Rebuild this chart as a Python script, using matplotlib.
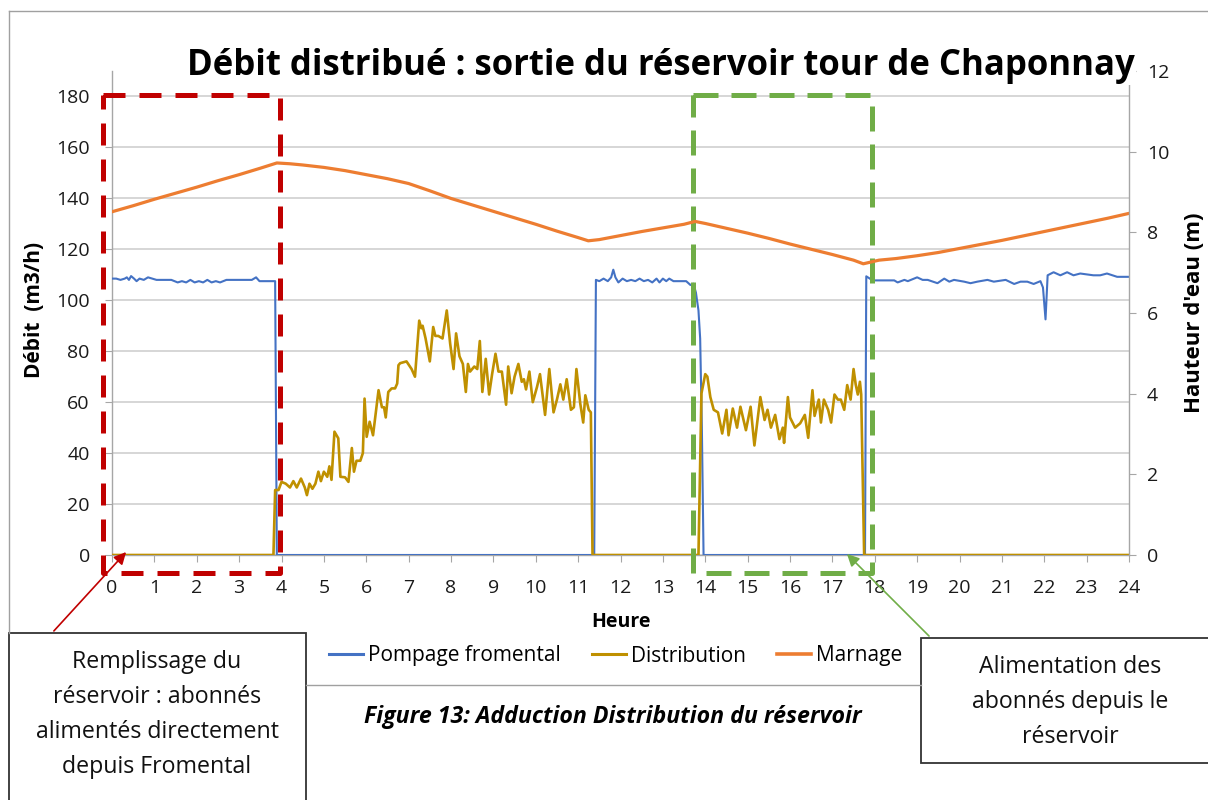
import matplotlib.pyplot as plt
from matplotlib.patches import Rectangle, FancyArrowPatch
from matplotlib.lines import Line2D

plt.rcParams['font.family'] = ['Open Sans', 'DejaVu Sans']

# Pompage fromental (m3/h) vs heure
pomp_t = [0.00, 0.10, 0.20, 0.30, 0.35, 0.40, 0.45, 0.52, 0.58, 0.65, 0.75, 0.85, 0.95, 1.05,
          1.20, 1.40, 1.55, 1.65, 1.75, 1.85, 1.95, 2.05, 2.15, 2.25, 2.35, 2.45, 2.55, 2.70,
          2.90, 3.10, 3.30, 3.40, 3.48, 3.60, 3.85, 3.89,
          11.38, 11.42, 11.50, 11.60, 11.70, 11.78, 11.83, 11.88, 11.95, 12.05, 12.15, 12.25,
          12.35, 12.45, 12.55, 12.65, 12.75, 12.85, 12.92, 13.00, 13.08, 13.15, 13.25, 13.40,
          13.55, 13.65, 13.72, 13.78, 13.84, 13.88, 13.92, 13.96,
          17.77, 17.80, 17.95, 18.46, 18.54, 18.70, 18.78, 19.00, 19.13, 19.25, 19.48, 19.64,
          19.76, 19.87, 20.11, 20.26, 20.42, 20.66, 20.81, 21.09, 21.29, 21.44, 21.60, 21.75,
          21.91, 21.97, 22.03, 22.08, 22.22, 22.38, 22.54, 22.69, 22.85, 23.16, 23.32, 23.48,
          23.72, 24.00]
pomp_v = [108.5, 108.5, 108.0, 108.5, 109.0, 108.0, 109.5, 108.5, 107.5, 108.5, 108.0, 109.0, 108.5, 108.0,
          108.0, 108.0, 107.0, 107.5, 107.0, 108.0, 107.0, 107.5, 107.0, 108.0, 107.0, 107.5, 107.0, 108.0,
          108.0, 108.0, 108.0, 109.0, 107.5, 107.5, 107.5, 0,
          0, 108.0, 107.5, 108.5, 107.5, 109.0, 112.0, 109.0, 107.0, 108.5, 107.5, 108.0,
          107.5, 108.5, 107.5, 108.0, 107.0, 108.5, 107.0, 108.5, 107.5, 108.5, 107.5, 107.5,
          107.5, 106.0, 106.5, 103.0, 96.0, 85.0, 50.0, 0,
          0, 109.4, 107.8, 107.8, 107.0, 108.0, 107.5, 109.0, 108.0, 108.0, 106.7, 108.5,
          107.3, 108.0, 107.3, 106.7, 107.3, 108.0, 107.3, 108.0, 106.4, 107.3, 107.3, 106.4,
          107.5, 105.0, 92.5, 109.8, 111.0, 109.8, 111.0, 109.8, 110.5, 109.8, 109.8, 110.5,
          109.2, 109.2]

# Distribution (m3/h) vs heure
dist_t = [0, 3.81, 3.85, 3.93, 4.00, 4.10, 4.20, 4.28, 4.36, 4.46, 4.55, 4.60, 4.66, 4.73, 4.80,
          4.87, 4.93, 5.00, 5.08, 5.13, 5.18, 5.25, 5.34, 5.39, 5.50, 5.58, 5.66, 5.71, 5.77, 5.86,
          5.92, 5.96, 6.01, 6.08, 6.16, 6.29, 6.37, 6.42, 6.46, 6.52, 6.60, 6.68, 6.73, 6.76, 6.80,
          6.95, 7.07, 7.15, 7.25, 7.30, 7.33, 7.40, 7.50, 7.58, 7.63, 7.70, 7.80, 7.90, 7.98, 8.06,
          8.12, 8.20, 8.28, 8.35, 8.40, 8.45, 8.55, 8.62, 8.68, 8.74, 8.82, 8.90, 8.97, 9.05, 9.12,
          9.20, 9.30, 9.35, 9.43, 9.50, 9.59, 9.67, 9.72, 9.77, 9.85, 9.93, 10.03, 10.10, 10.22,
          10.32, 10.42, 10.50, 10.58, 10.65, 10.73, 10.83, 10.90, 10.96, 11.05, 11.12, 11.17, 11.25,
          11.30, 11.34, 13.84, 13.91, 14.00, 14.05, 14.12, 14.20, 14.30, 14.40, 14.50, 14.55, 14.65,
          14.75, 14.83, 14.96, 15.07, 15.16, 15.30, 15.40, 15.47, 15.55, 15.65, 15.75, 15.83, 15.86,
          15.95, 16.00, 16.12, 16.24, 16.35, 16.43, 16.53, 16.58, 16.68, 16.73, 16.80, 16.90, 16.97,
          17.05, 17.13, 17.20, 17.28, 17.35, 17.43, 17.50, 17.55, 17.60, 17.65, 17.68, 17.75, 24.00]
dist_v = [0, 0, 25.5, 25.5, 28.7, 28.0, 26.5, 29.0, 26.5, 30.0, 26.5, 23.5, 28.0, 26.0, 28.0,
          32.7, 29.0, 32.7, 30.7, 34.8, 29.5, 48.4, 45.8, 30.7, 30.5, 28.7, 42.0, 32.7, 37.0, 37.0,
          40.0, 61.4, 46.4, 52.3, 47.0, 64.7, 58.0, 58.0, 54.0, 64.0, 65.4, 65.4, 67.3, 74.5, 75.3,
          76.0, 73.0, 70.0, 92.0, 89.0, 90.0, 85.0, 76.0, 89.5, 86.0, 86.0, 85.0, 96.0, 83.0, 73.0,
          87.0, 78.0, 75.0, 64.0, 75.0, 72.0, 74.0, 73.0, 84.0, 64.0, 77.0, 63.0, 71.0, 79.0, 72.0,
          72.0, 59.0, 74.0, 63.5, 70.0, 75.0, 68.0, 69.0, 65.0, 72.0, 60.0, 66.0, 71.0, 55.0,
          73.0, 56.0, 61.0, 67.0, 61.0, 69.0, 57.0, 58.0, 73.0, 59.5, 52.0, 62.7, 57.0,
          56.0, 0, 0, 63.4, 71.0, 70.0, 62.0, 57.0, 56.0, 47.7, 57.0, 47.0, 57.5,
          50.0, 58.2, 49.0, 58.2, 43.0, 62.0, 53.0, 57.0, 50.0, 55.0, 45.5, 50.0, 44.0,
          62.0, 54.0, 50.0, 51.7, 55.0, 46.0, 64.7, 54.6, 61.0, 52.0, 61.0, 57.0, 52.0,
          63.0, 61.0, 61.0, 57.0, 66.7, 61.0, 73.0, 67.0, 63.0, 68.0, 63.0, 0, 0]

# Marnage (hauteur d'eau, m) vs heure
marn_t = [0, 0.5, 1, 1.5, 2, 2.5, 3, 3.5, 3.89, 4.2, 4.5, 5, 5.5, 6, 6.5, 7, 7.5, 8, 8.5, 9,
          9.5, 10, 10.5, 11, 11.24, 11.5, 12, 12.5, 13, 13.5, 13.76, 14, 14.5, 15, 15.5, 16,
          16.5, 17, 17.5, 17.73, 18.1, 18.5, 19, 19.5, 20, 20.5, 21, 21.5, 22, 22.5, 23, 23.5, 24]
marn_v = [8.51, 8.66, 8.82, 8.97, 9.12, 9.28, 9.43, 9.59, 9.72, 9.70, 9.67, 9.61, 9.53, 9.43,
          9.33, 9.21, 9.03, 8.84, 8.68, 8.52, 8.36, 8.20, 8.03, 7.87, 7.79, 7.82, 7.92, 8.02,
          8.11, 8.20, 8.27, 8.22, 8.10, 7.98, 7.85, 7.71, 7.58, 7.45, 7.31, 7.22, 7.31, 7.35,
          7.42, 7.50, 7.60, 7.70, 7.80, 7.91, 8.02, 8.13, 8.24, 8.35, 8.47]

hours = list(range(0, 25))
W, H = 1208, 800


def fx(px):
    return px / W


def fy(py):
    return 1 - py / H


fig = plt.figure(figsize=(12.08, 8), dpi=100)
ax = fig.add_axes([fx(112), fy(555), (1129 - 112) / W, (555 - 71) / H])
ax2 = ax.twinx()

grid_c = '#D0D0D0'
axis_c = '#A6A6A6'

ax.plot(pomp_t, pomp_v, color='#4472C4', lw=1.5, label='Pompage fromental', zorder=3)
ax.plot(dist_t, dist_v, color='#BF9000', lw=1.9, label='Distribution', zorder=4)
ax2.plot(marn_t, marn_v, color='#ED7D31', lw=2.3, label='Marnage')

ax.set_xlim(0, 24)
ax.set_ylim(0, 190)
ax2.set_ylim(0, 12)
ax.set_xticks(hours)
ax.set_yticks(range(0, 181, 20))
ax2.set_yticks(range(0, 13, 2))
ax.yaxis.grid(True, color=grid_c, lw=1.2)
ax.set_axisbelow(True)

for a in (ax, ax2):
    for s in a.spines.values():
        s.set_color(axis_c)
        s.set_linewidth(1.0)
    a.spines['top'].set_visible(False)
ax.spines['right'].set_visible(False)
ax2.spines['left'].set_visible(False)
ax2.spines['bottom'].set_visible(False)

ax.tick_params(axis='x', length=5, color=axis_c, labelsize=14, pad=12, labelcolor='#1a1a1a')
ax.tick_params(axis='y', length=5, color=axis_c, labelsize=14, pad=11, labelcolor='#1a1a1a')
ax2.tick_params(axis='y', length=5, color=axis_c, labelsize=14, pad=8, labelcolor='#1a1a1a')

# highlight rectangles (hours / m3/h)
ax.plot([-0.21, 3.96, 3.96, -0.21, -0.21], [180.6, 180.6, -7.0, -7.0, 180.6], color='#C00000',
        lw=3.6, ls=(0, (4.4, 2.8)), clip_on=False, zorder=6)
ax.plot([13.71, 17.93, 17.93, 13.71, 13.71], [180.6, 180.6, -7.0, -7.0, 180.6], color='#70AD47',
        lw=3.6, ls=(0, (5.0, 2.6)), clip_on=False, zorder=6)

# titles and labels
fig.text(fx(661), fy(75), 'Débit distribué : sortie du réservoir tour de Chaponnay', ha='center',
         va='baseline', fontsize=25, weight='bold',
         bbox=dict(facecolor='white', edgecolor='none', pad=1))
fig.text(fx(35), fy(310), 'Débit  (m3/h)', rotation=90, ha='center', va='center', fontsize=15, weight='bold')
fig.text(fx(1195), fy(313), "Hauteur d'eau (m)", rotation=90, ha='center', va='center', fontsize=16,
         weight='bold')
fig.text(fx(621), fy(622), 'Heure', ha='center', va='center', fontsize=14, weight='bold')

# legend
handles = [Line2D([], [], color='#4472C4', lw=2.2), Line2D([], [], color='#BF9000', lw=2.2),
           Line2D([], [], color='#ED7D31', lw=2.6)]
fig.legend(handles, ['Pompage fromental', 'Distribution', 'Marnage'], loc='center',
           bbox_to_anchor=(fx(616), fy(656)), ncol=3, frameon=False, fontsize=15,
           handlelength=1.63, handletextpad=0.24, columnspacing=1.5)

fig.text(fx(613), fy(717), 'Figure 13: Adduction Distribution du réservoir', ha='center', va='center',
         fontsize=16.7, weight='bold', style='italic')

# outer chart frame
frame_c = '#A0A0A0'
fig.add_artist(Line2D([fx(9), fx(1210)], [fy(11), fy(11)], color=frame_c, lw=1.0))
fig.add_artist(Line2D([fx(9), fx(9)], [fy(11), fy(633)], color=frame_c, lw=1.0))
fig.add_artist(Line2D([fx(306), fx(921)], [fy(685), fy(685)], color=frame_c, lw=1.0))

# annotation boxes
box_c = '#333333'
fig.add_artist(Rectangle((fx(9), fy(810)), fx(306) - fx(9), fy(633) - fy(810), transform=fig.transFigure,
                         facecolor='white', edgecolor=box_c, lw=1.3))
fig.add_artist(Rectangle((fx(921), fy(763)), fx(1215) - fx(921), fy(638) - fy(763), transform=fig.transFigure,
                         facecolor='white', edgecolor=box_c, lw=1.3))

for txt, py in zip(['Remplissage du', 'réservoir : abonnés', 'alimentés directement', 'depuis Fromental'],
                   [662, 697, 732, 767]):
    fig.text(fx(157), fy(py), txt, ha='center', va='center', fontsize=16.7, color='#111111')
for txt, py in zip(['Alimentation des', 'abonnés depuis le', 'réservoir'], [667, 702, 737]):
    fig.text(fx(1070), fy(py), txt, ha='center', va='center', fontsize=16.7, color='#111111')

# arrows
fig.add_artist(FancyArrowPatch((fx(52), fy(633)), (fx(128), fy(550)), transform=fig.transFigure,
                               arrowstyle='-|>', mutation_scale=18, color='#C00000', lw=1.2))
fig.add_artist(FancyArrowPatch((fx(931), fy(638)), (fx(845), fy(552)), transform=fig.transFigure,
                               arrowstyle='-|>', mutation_scale=18, color='#70AD47', lw=1.2))

fig.savefig('out.png', dpi=100)
